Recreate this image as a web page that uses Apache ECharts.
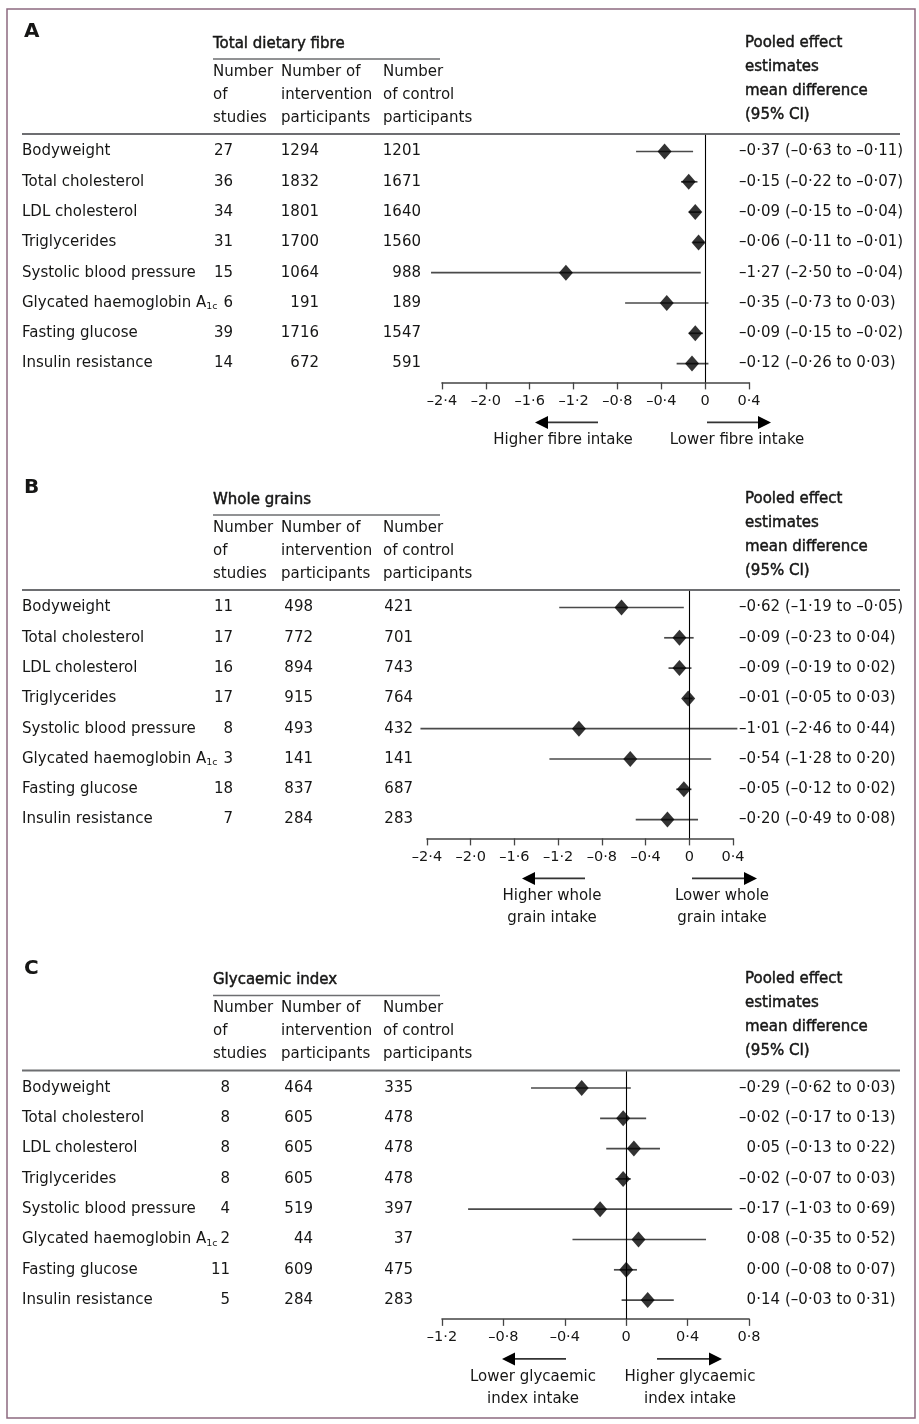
<!DOCTYPE html>
<html><head><meta charset="utf-8">
<script src="https://cdn.jsdelivr.net/npm/echarts@6/dist/echarts.min.js"></script>
<style>html,body{margin:0;padding:0;background:#fff}#c{width:919px;height:1424px}</style>
</head><body><div id="c"></div>
<script>
// ---------- data ----------
const outcomeLabels = ['Bodyweight','Total cholesterol','LDL cholesterol','Triglycerides','Systolic blood pressure','Glycated haemoglobin A{sub|1c}','Fasting glucose','Insulin resistance'];
const panelTitles = ['Total dietary fibre','Whole grains','Glycaemic index'];

const fibreStudies = [27,36,34,31,15,6,39,14];
const fibreIntervention = [1294,1832,1801,1700,1064,191,1716,672];
const fibreControl = [1201,1671,1640,1560,988,189,1547,591];
const fibreEstimate = [-0.37,-0.15,-0.09,-0.06,-1.27,-0.35,-0.09,-0.12];
const fibreLower = [-0.63,-0.22,-0.15,-0.11,-2.50,-0.73,-0.15,-0.26];
const fibreUpper = [-0.11,-0.07,-0.04,-0.01,-0.04,0.03,-0.02,0.03];
const fibreTicks = [-2.4,-2.0,-1.6,-1.2,-0.8,-0.4,0,0.4];
const fibreArrowLabels = ['Higher fibre intake','Lower fibre intake'];

const grainStudies = [11,17,16,17,8,3,18,7];
const grainIntervention = [498,772,894,915,493,141,837,284];
const grainControl = [421,701,743,764,432,141,687,283];
const grainEstimate = [-0.62,-0.09,-0.09,-0.01,-1.01,-0.54,-0.05,-0.20];
const grainLower = [-1.19,-0.23,-0.19,-0.05,-2.46,-1.28,-0.12,-0.49];
const grainUpper = [-0.05,0.04,0.02,0.03,0.44,0.20,0.02,0.08];
const grainTicks = [-2.4,-2.0,-1.6,-1.2,-0.8,-0.4,0,0.4];
const grainArrowLabels = ['Higher whole\ngrain intake','Lower whole\ngrain intake'];

const giStudies = [8,8,8,8,4,2,11,5];
const giIntervention = [464,605,605,605,519,44,609,284];
const giControl = [335,478,478,478,397,37,475,283];
const giEstimate = [-0.29,-0.02,0.05,-0.02,-0.17,0.08,0.00,0.14];
const giLower = [-0.62,-0.17,-0.13,-0.07,-1.03,-0.35,-0.08,-0.03];
const giUpper = [0.03,0.13,0.22,0.03,0.69,0.52,0.07,0.31];
const giTicks = [-1.2,-0.8,-0.4,0,0.4,0.8];
const giArrowLabels = ['Lower glycaemic\nindex intake','Higher glycaemic\nindex intake'];

const headerCols = [['Number','of','studies'],['Number of','intervention','participants'],['Number','of control','participants']];
const pooledHeader = ['Pooled effect','estimates','mean difference','(95% CI)'];

// ---------- layout / style ----------
const FONT = '"DejaVu Sans", sans-serif';
const FS = 15;
const TXT = '#161615';
const S = 30.3, YMIN = -0.55, YMAX = 7.62;
const layouts = [
  {letter:'A', first:151.5, left:442, width:307, colS:233, colI:319, colC:421, arrL:[598,535], arrR:[707,771], lblL:563, lblR:737},
  {letter:'B', first:607.5, left:427, width:306, colS:233, colI:313, colC:413, arrL:[585,522], arrR:[692,757], lblL:552, lblR:722},
  {letter:'C', first:1088, left:442, width:307, colS:230, colI:313, colC:413, arrL:[566,502], arrR:[657,722], lblL:533, lblR:690}
];
const panels = [
  {title:panelTitles[0], studies:fibreStudies, interv:fibreIntervention, ctrl:fibreControl, est:fibreEstimate, lo:fibreLower, hi:fibreUpper, ticks:fibreTicks, arrows:fibreArrowLabels},
  {title:panelTitles[1], studies:grainStudies, interv:grainIntervention, ctrl:grainControl, est:grainEstimate, lo:grainLower, hi:grainUpper, ticks:grainTicks, arrows:grainArrowLabels},
  {title:panelTitles[2], studies:giStudies, interv:giIntervention, ctrl:giControl, est:giEstimate, lo:giLower, hi:giUpper, ticks:giTicks, arrows:giArrowLabels}
];

function fmt(v){ return (v < 0 ? '–' : '') + Math.abs(v).toFixed(2).replace('.', '·'); }
function tickFmt(v){ if (Math.abs(v) < 1e-9) return '0'; return (v < 0 ? '–' : '') + Math.abs(v).toFixed(1).replace('.', '·'); }

const chart = echarts.init(document.getElementById('c'), null, {renderer:'canvas'});

const grids = [], xAxes = [], yAxes = [], series = [], graphics = [];

graphics.push({type:'rect', shape:{x:7, y:9, width:908, height:1409}, style:{fill:'none', stroke:'#8d6a80', lineWidth:1.5}, silent:true});

function txt(x, y, text, opts){
  return {type:'text', x:x, y:y, silent:true, style:Object.assign({text:text, fill:TXT, fontFamily:FONT, fontSize:FS, align:'left', verticalAlign:'middle'}, opts || {})};
}
const semi = {stroke:TXT, lineWidth:0.45};

panels.forEach((p, i) => {
  const L = layouts[i];
  const top = L.first + YMIN * S;
  const h = (YMAX - YMIN) * S;
  const axisY = top + h;
  grids.push({left:L.left, width:L.width, top:top, height:h, containLabel:false});
  xAxes.push({
    gridIndex:i, type:'value', min:p.ticks[0], max:p.ticks[p.ticks.length-1], interval:0.4,
    axisLine:{show:true, onZero:false, lineStyle:{color:'#444', width:1.6}},
    axisTick:{show:true, length:7, lineStyle:{color:'#444', width:1.3}},
    axisLabel:{show:true, formatter:tickFmt, fontFamily:FONT, fontSize:14.5, color:TXT, margin:11},
    splitLine:{show:false}
  });
  yAxes.push({gridIndex:i, type:'value', inverse:true, min:YMIN, max:YMAX, show:false});

  // CI lines + zero reference line
  series.push({
    type:'custom', xAxisIndex:i, yAxisIndex:i, silent:true, animation:false,
    data:p.est.map((e, k) => [p.lo[k], k, p.hi[k]]),
    renderItem:(params, api) => {
      const a = api.coord([api.value(0), api.value(1)]);
      const b = api.coord([api.value(2), api.value(1)]);
      return {type:'line', shape:{x1:a[0], y1:a[1], x2:b[0], y2:b[1]}, style:{stroke:'#4a4a4a', lineWidth:1.7}};
    },
    markLine:{silent:true, symbol:['none','none'], animation:false, label:{show:false},
      lineStyle:{color:'#000', width:1.1, type:'solid'}, data:[{xAxis:0}]},
    z:2
  });
  // diamonds
  series.push({
    type:'scatter', xAxisIndex:i, yAxisIndex:i, silent:true, animation:false,
    symbol:'diamond', symbolSize:[14,16], itemStyle:{color:'#000'},
    data:p.est.map((e, k) => [e, k]), z:3
  });
  // table text
  series.push({
    type:'custom', xAxisIndex:i, yAxisIndex:i, silent:true, animation:false,
    data:p.est.map((e, k) => [p.ticks[0], k]),
    renderItem:(params, api) => {
      const k = api.value(1);
      const y = api.coord([p.ticks[0], k])[1];
      const base = {fill:TXT, fontFamily:FONT, fontSize:FS, verticalAlign:'middle'};
      return {type:'group', children:[
        {type:'text', x:22, y:y, style:Object.assign({}, base, {text:outcomeLabels[k], align:'left', lineHeight:18,
          rich:{sub:{fontSize:9.5, fontFamily:FONT, fill:TXT, verticalAlign:'bottom', lineHeight:10}}})},
        {type:'text', x:L.colS, y:y, style:Object.assign({}, base, {text:String(p.studies[k]), align:'right'})},
        {type:'text', x:L.colI, y:y, style:Object.assign({}, base, {text:String(p.interv[k]), align:'right'})},
        {type:'text', x:L.colC, y:y, style:Object.assign({}, base, {text:String(p.ctrl[k]), align:'right'})},
        {type:'text', x:780, y:y, style:Object.assign({}, base, {text:fmt(p.est[k]), align:'right'})},
        {type:'text', x:785, y:y, style:Object.assign({}, base, {text:'(' + fmt(p.lo[k]) + ' to ' + fmt(p.hi[k]) + ')', align:'left'})}
      ]};
    },
    z:4
  });

  // headers
  const f = L.first;
  graphics.push(txt(24, f - 119.5, L.letter, {fontSize:20, fontWeight:'bold'}));
  graphics.push(txt(213, f - 107.5, p.title, semi));
  graphics.push({type:'line', silent:true, shape:{x1:213, y1:f - 92.5, x2:440, y2:f - 92.5}, style:{stroke:'#6d6e71', lineWidth:1.6}});
  const colX = [213, 281, 383];
  headerCols.forEach((col, c) => col.forEach((t, r) => graphics.push(txt(colX[c], f - 79.5 + r * 23, t))));
  pooledHeader.forEach((t, r) => graphics.push(txt(745, f - 108.5 + r * 24, t, semi)));
  graphics.push({type:'line', silent:true, shape:{x1:22, y1:f - 17.5, x2:900, y2:f - 17.5}, style:{stroke:'#6d6e71', lineWidth:2}});

  // arrows
  const ay = axisY + 40;
  [[L.arrL[0], L.arrL[1]], [L.arrR[0], L.arrR[1]]].forEach(([tail, tip]) => {
    const dir = tip > tail ? 1 : -1;
    graphics.push({type:'line', silent:true, shape:{x1:tail, y1:ay, x2:tip - dir * 10, y2:ay}, style:{stroke:'#333', lineWidth:1.7}});
    graphics.push({type:'polygon', silent:true, shape:{points:[[tip, ay], [tip - dir * 13, ay - 6.5], [tip - dir * 13, ay + 6.5]]}, style:{fill:'#000'}});
  });
  graphics.push(txt(L.lblL, axisY + 47, p.arrows[0], {align:'center', verticalAlign:'top', lineHeight:22}));
  graphics.push(txt(L.lblR, axisY + 47, p.arrows[1], {align:'center', verticalAlign:'top', lineHeight:22}));
});

chart.setOption({
  backgroundColor:'#fff',
  animation:false,
  grid:grids, xAxis:xAxes, yAxis:yAxes, series:series,
  graphic:{elements:graphics}
});
</script>
</body></html>
